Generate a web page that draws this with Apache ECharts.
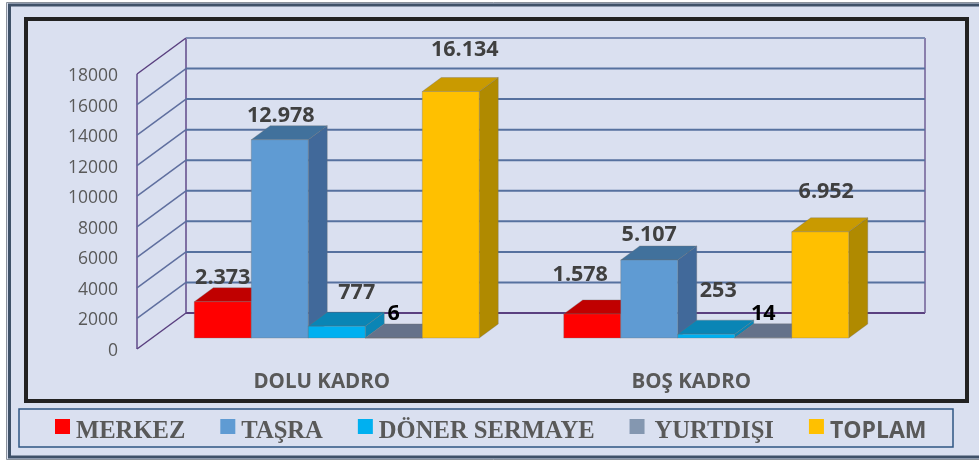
<!DOCTYPE html>
<html>
<head>
<meta charset="utf-8">
<style>
  html, body { margin: 0; padding: 0; background: #fff; }
  #chart { width: 979px; height: 463px; }
</style>
<script src="https://cdn.jsdelivr.net/npm/echarts@6/dist/echarts.min.js"></script>
</head>
<body>
<div id="chart"></div>
<script>
// values
const categories = ['DOLU KADRO', 'BOŞ KADRO'];
const seriesNames = ['MERKEZ', 'TAŞRA', 'DÖNER SERMAYE', 'YURTDIŞI', 'TOPLAM'];
const merkez = [2373, 1578];
const tasra = [12978, 5107];
const doner = [777, 253];
const yurtdisi = [6, 14];
const toplam = [16134, 6952];
const yTicks = [0, 2000, 4000, 6000, 8000, 10000, 12000, 14000, 16000, 18000];

const seriesValues = [merkez, tasra, doner, yurtdisi, toplam];

// front, top and side colours of each bar
const faces = [
  ['#ff0000', '#c00000', '#a00000'],
  ['#5f9bd3', '#41719c', '#41699a'],
  ['#00b0f0', '#0a85b5', '#0a85b5'],
  ['#8497b0', '#65728a', '#65728a'],
  ['#ffc000', '#c99a00', '#b08a00']
];

// labels were placed by hand in the original: offset from the bar's front top centre
const labelOffsets = [
  [[0, -25], [-12, -40]],
  [[1, -25], [0, -26]],
  [[20, -34], [12, -44]],
  [[0, -25], [0, -25]],
  [[14, -43], [6, -41]]
];

const wallDx = 49, wallDy = -36;   // 3d depth of the chart box
const floorDx = 15, floorDy = -11; // bars sit this far inside the box
const barDx = 19, barDy = -14;     // 3d depth of a bar
const barW = 57;
const labelFont = '"Open Sans", sans-serif';

function formatValue(v) {
  return String(v).replace(/\B(?=(\d{3})+$)/g, '.');
}

function renderWall(params, api) {
  const tick = api.value(0);
  const cs = params.coordSys;
  const y = api.coord([0, tick])[1];
  const x0 = cs.x, x1 = cs.x + wallDx, x2 = cs.x + cs.width + wallDx;
  const isEdge = tick === 0 || tick === yTicks[yTicks.length - 1];
  const children = [
    { type: 'line', shape: { x1: x0, y1: y, x2: x1, y2: y + wallDy },
      style: { stroke: isEdge ? '#5a4080' : '#5f6f9f', lineWidth: 1.5 } },
    { type: 'line', shape: { x1: x1, y1: y + wallDy, x2: x2, y2: y + wallDy },
      style: { stroke: tick === 0 ? '#5a4080' : (isEdge ? '#7c8db4' : '#56719f'), lineWidth: 2 } }
  ];
  if (tick === 0) {
    const top = cs.y;
    children.push(
      { type: 'line', shape: { x1: x0, y1: y, x2: x0, y2: top }, style: { stroke: '#5f4a8a', lineWidth: 1.5 } },
      { type: 'line', shape: { x1: x1, y1: y + wallDy, x2: x1, y2: top + wallDy }, style: { stroke: '#5f4a8a', lineWidth: 1.5 } },
      { type: 'line', shape: { x1: x2, y1: y + wallDy, x2: x2, y2: top + wallDy }, style: { stroke: '#6f5f96', lineWidth: 1.5 } }
    );
  }
  return { type: 'group', children: children };
}

function renderBar(s) {
  return function (params, api) {
    const idx = api.value(0);
    const val = api.value(1);
    const base = api.coord([idx, 0]);
    const top = api.coord([idx, val]);
    const xl = base[0] + floorDx + (s - 2.5) * barW;
    const xr = xl + barW;
    const yb = base[1] + floorDy;
    const yt = top[1] + floorDy;
    const c = faces[s];
    const edge = { stroke: 'rgba(110,110,110,0.55)', lineWidth: 0.6 };
    const off = labelOffsets[s][idx];
    const small = val < 100;
    return {
      type: 'group',
      children: [
        { type: 'polygon', shape: { points: [[xr, yb], [xr + barDx, yb + barDy], [xr + barDx, yt + barDy], [xr, yt]] },
          style: Object.assign({ fill: c[2] }, edge) },
        { type: 'polygon', shape: { points: [[xl, yt], [xl + barDx, yt + barDy], [xr + barDx, yt + barDy], [xr, yt]] },
          style: Object.assign({ fill: c[1] }, edge) },
        { type: 'rect', shape: { x: xl, y: yt, width: barW, height: yb - yt },
          style: Object.assign({ fill: c[0] }, edge) },
        { type: 'text', z2: 50, style: {
            text: formatValue(val),
            x: xl + barW / 2 + off[0], y: yt + off[1] + 1,
            align: 'center', verticalAlign: 'middle',
            font: 'bold 21.5px ' + labelFont,
            fill: small ? '#000000' : '#404040'
          } }
      ]
    };
  };
}

const series = [{
  type: 'custom',
  silent: true,
  renderItem: renderWall,
  encode: { y: 0 },
  data: yTicks.map(t => [t])
}];

seriesNames.forEach(function (name, s) {
  series.push({
    name: name,
    type: 'custom',
    silent: true,
    renderItem: renderBar(s),
    itemStyle: { color: faces[s][0] },
    encode: { x: 0, y: 1 },
    data: seriesValues[s].map((v, i) => [i, v])
  });
});

const chart = echarts.init(document.getElementById('chart'), null, { renderer: 'canvas' });
chart.setOption({
  animation: false,
  backgroundColor: '#ffffff',
  graphic: [
    { type: 'rect', z: -10, shape: { x: 6.5, y: 2.5, width: 990, height: 457 }, style: { fill: '#dae0f0', stroke: '#8b929c', lineWidth: 1 } },
    { type: 'rect', z: -9, shape: { x: 9.5, y: 5, width: 990, height: 452 }, style: { fill: '#dae0f0', stroke: '#3f5168', lineWidth: 3 } },
    { type: 'rect', z: -8, shape: { x: 26, y: 19, width: 941, height: 382 }, style: { fill: '#dae0f0', stroke: '#222222', lineWidth: 4 } },
    { type: 'rect', z: -8, shape: { x: 19, y: 409, width: 934, height: 38 }, style: { fill: '#dae0f0', stroke: '#2f5582', lineWidth: 1.5 } }
  ],
  grid: { left: 137, top: 74, width: 739, height: 275 },
  legend: {
    data: seriesNames,
    left: 50,
    top: 414,
    icon: 'rect',
    itemWidth: 15,
    itemHeight: 15,
    itemGap: 35,
    selectedMode: false,
    formatter: function (name) {
      if (name === 'TOPLAM') return '{sans|' + name + '}';
      if (name === 'YURTDIŞI') return '{wide|' + name + '}';
      return '{serif|' + name + '}';
    },
    textStyle: {
      rich: {
        serif: { fontFamily: '"Liberation Serif", serif', fontWeight: 'bold', fontSize: 24.6, color: '#595959', padding: [11, 0, 0, 1] },
        wide: { fontFamily: '"Liberation Serif", serif', fontWeight: 'bold', fontSize: 24.6, color: '#595959', padding: [11, 0, 0, 5] },
        sans: { fontFamily: labelFont, fontWeight: 'bold', fontSize: 23, color: '#595959', padding: [9, 0, 0, 1] }
      }
    }
  },
  xAxis: {
    type: 'category',
    data: categories,
    axisLine: { show: false },
    axisTick: { show: false },
    axisLabel: { margin: 23, color: '#595959', fontSize: 20.5, fontWeight: 'bold', fontFamily: labelFont }
  },
  yAxis: {
    type: 'value',
    min: 0,
    max: 18000,
    interval: 2000,
    axisLine: { show: false },
    axisTick: { show: false },
    splitLine: { show: false },
    axisLabel: {
      margin: 19, color: '#595959', fontSize: 17.5, fontFamily: labelFont,
      verticalAlign: 'top', lineHeight: 4,
      formatter: function (v) { return String(v); }
    }
  },
  series: series
});
</script>
</body>
</html>
